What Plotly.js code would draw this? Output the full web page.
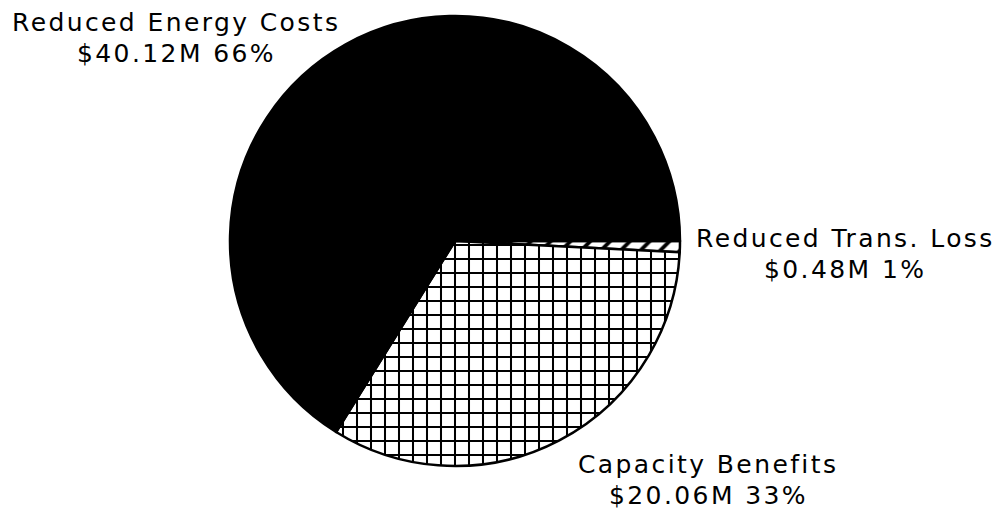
<!DOCTYPE html>
<html>
<head>
<meta charset="utf-8">
<script src="https://cdn.plot.ly/plotly-3.0.1.min.js"></script>
<style>
  html, body { margin: 0; padding: 0; background: #ffffff; }
  #chart { width: 1004px; height: 510px; }
  .annotation-text { letter-spacing: 2.4px; }
</style>
</head>
<body>
<div id="chart"></div>
<script>
// Benefit categories (in slice order, clockwise from 3 o'clock)
const categories = ['Reduced Trans. Loss', 'Capacity Benefits', 'Reduced Energy Costs'];
// Benefit amounts, $ millions
const amounts = [0.48, 20.06, 40.12];
// Fill pattern for each slice ('' = solid)
const patternShapes = ['/', '+', ''];

const total = amounts.reduce((a, b) => a + b, 0);
const percents = amounts.map(v => Math.round(v / total * 100));
const amountText = amounts.map((v, i) => '$' + v.toFixed(2) + 'M ' + percents[i] + '%');

const pie = {
  type: 'pie',
  labels: categories,
  values: amounts,
  sort: false,
  direction: 'clockwise',
  rotation: 90,
  textinfo: 'none',
  hoverinfo: 'skip',
  showlegend: false,
  domain: { x: [230 / 1004, 680 / 1004], y: [1 - 466 / 510, 1 - 16 / 510] },
  marker: {
    colors: ['#ffffff', '#ffffff', '#000000'],
    line: { color: '#000000', width: 2.5 },
    pattern: {
      shape: patternShapes,
      size: 14,
      solidity: 0.27,
      fgcolor: '#000000',
      fgopacity: 1,
      bgcolor: '#ffffff',
      fillmode: 'overlay'
    }
  }
};

// Label placement: [center x px, first-line baseline px] per category
const labelSpots = [[845, 247], [708, 473], [176, 32]];
const lineGap = 31;
const annotations = [];
categories.forEach((name, i) => {
  const [cx, base] = labelSpots[i];
  [name, amountText[i]].forEach((txt, k) => {
    annotations.push({
      text: txt,
      xref: 'paper', yref: 'paper',
      x: cx / 1004,
      y: 1 - (base + k * lineGap - 9) / 510,
      xanchor: 'center', yanchor: 'middle',
      showarrow: false,
      font: { family: 'DejaVu Sans', size: 25, color: '#000000' }
    });
  });
});

const layout = {
  width: 1004,
  height: 510,
  margin: { l: 0, r: 0, t: 0, b: 0 },
  paper_bgcolor: '#ffffff',
  plot_bgcolor: '#ffffff',
  annotations: annotations
};

Plotly.newPlot('chart', [pie], layout, { displayModeBar: false, staticPlot: true });
</script>
</body>
</html>
